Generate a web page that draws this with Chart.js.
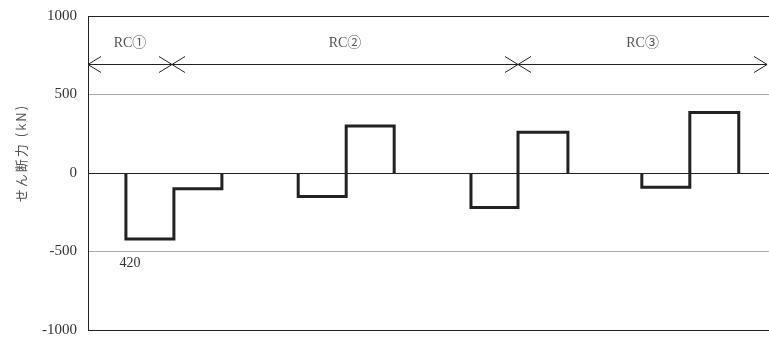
<!DOCTYPE html>
<html>
<head>
<meta charset="utf-8">
<script src="https://cdn.jsdelivr.net/npm/chart.js@4/dist/chart.umd.min.js"></script>
<style>
    html, body { margin: 0; padding: 0; background: #fff; }
    #wrap { width: 769px; height: 340px; position: relative; }
</style>
</head>
<body>
<div id="wrap"><canvas id="shearChart"></canvas></div>
<script>
// Shear force data (kN), node positions along the member
const nodeX = [
    [0.79, 1.79, 2.79],
    [4.38, 5.38, 6.38],
    [7.98, 8.96, 10.0],
    [11.54, 12.54, 13.56]
];
const shearLeft = [-420, -150, -220, -90];
const shearRight = [-100, 300, 260, 385];

// RC zones along the top
const zoneLabels = ['RC①', 'RC②', 'RC③'];
const zoneBounds = [0, 1.75, 8.96, 14.15];
const zoneArrowY = 695;
const zoneLabelY = 828;

// Value note
const noteText = '420';
const noteX = 0.875;
const noteY = -573;

const yTicks = [-1000, -500, 0, 500, 1000];

// Build step line for each group
function stepPoints(xs, v1, v2) {
    return [
        { x: xs[0], y: 0 },
        { x: xs[0], y: v1 },
        { x: xs[1], y: v1 },
        { x: xs[1], y: v2 },
        { x: xs[2], y: v2 },
        { x: xs[2], y: 0 }
    ];
}

const datasets = nodeX.map((xs, i) => ({
    label: 'group' + (i + 1),
    data: stepPoints(xs, shearLeft[i], shearRight[i]),
    borderColor: '#222',
    borderWidth: 3,
    pointRadius: 0,
    tension: 0,
    fill: false
}));

// Arrows, zone labels, note and axis title
const annotations = {
    id: 'annotations',
    afterDatasetsDraw(chart) {
        const ctx = chart.ctx;
        const xs = chart.scales.x;
        const ys = chart.scales.y;
        const ay = Math.round(ys.getPixelForValue(zoneArrowY)) + 0.5;

        ctx.save();
        ctx.strokeStyle = '#222';
        ctx.lineWidth = 1;
        zoneLabels.forEach((lbl, i) => {
            const x0 = xs.getPixelForValue(zoneBounds[i]);
            const x1 = xs.getPixelForValue(zoneBounds[i + 1]);
            ctx.beginPath();
            ctx.moveTo(x0, ay);
            ctx.lineTo(x1, ay);
            // left head
            ctx.moveTo(x0 + 13, ay - 8);
            ctx.lineTo(x0, ay);
            ctx.lineTo(x0 + 13, ay + 8);
            // right head
            ctx.moveTo(x1 - 13, ay - 8);
            ctx.lineTo(x1, ay);
            ctx.lineTo(x1 - 13, ay + 8);
            ctx.stroke();

            ctx.fillStyle = '#555';
            ctx.font = '14px "Liberation Serif", "Noto Sans CJK JP", serif';
            ctx.textAlign = 'center';
            ctx.textBaseline = 'middle';
            ctx.fillText(lbl, (x0 + x1) / 2, ys.getPixelForValue(zoneLabelY));
        });

        ctx.fillStyle = '#333';
        ctx.font = '14px "Liberation Serif", serif';
        ctx.textAlign = 'center';
        ctx.textBaseline = 'middle';
        ctx.fillText(noteText, xs.getPixelForValue(noteX), ys.getPixelForValue(noteY));

        // y axis title
        ctx.translate(21, 153);
        ctx.rotate(-Math.PI / 2);
        ctx.fillStyle = '#555';
        ctx.font = '13px "Noto Sans CJK JP", sans-serif';
        ctx.letterSpacing = '2px';
        ctx.fillText('せん断力 (kN)', 0, 0);
        ctx.restore();
    }
};

new Chart(document.getElementById('shearChart'), {
    type: 'line',
    data: { datasets: datasets },
    options: {
        responsive: true,
        maintainAspectRatio: false,
        animation: false,
        layout: { padding: { top: 16, bottom: 10, right: 0, left: 0 } },
        plugins: {
            legend: { display: false },
            tooltip: { enabled: false }
        },
        scales: {
            x: {
                type: 'linear',
                display: false,
                min: 0,
                max: 14.19
            },
            y: {
                min: -1000,
                max: 1000,
                afterFit(scale) {
                    scale.width = 88;
                    scale.paddingTop = 0;
                    scale.paddingBottom = 0;
                },
                afterBuildTicks(scale) {
                    scale.ticks = yTicks.map(v => ({ value: v }));
                },
                border: { display: true, color: '#222', width: 1 },
                grid: {
                    drawTicks: false,
                    lineWidth: 1,
                    color: (c) => {
                        const v = c.tick ? c.tick.value : null;
                        return (v === 500 || v === -500) ? '#aaa' : '#222';
                    }
                },
                ticks: {
                    padding: 11,
                    color: '#333',
                    font: { family: '"Liberation Serif", serif', size: 15 },
                    callback: (v) => String(v)
                }
            }
        }
    },
    plugins: [annotations]
});
</script>
</body>
</html>
